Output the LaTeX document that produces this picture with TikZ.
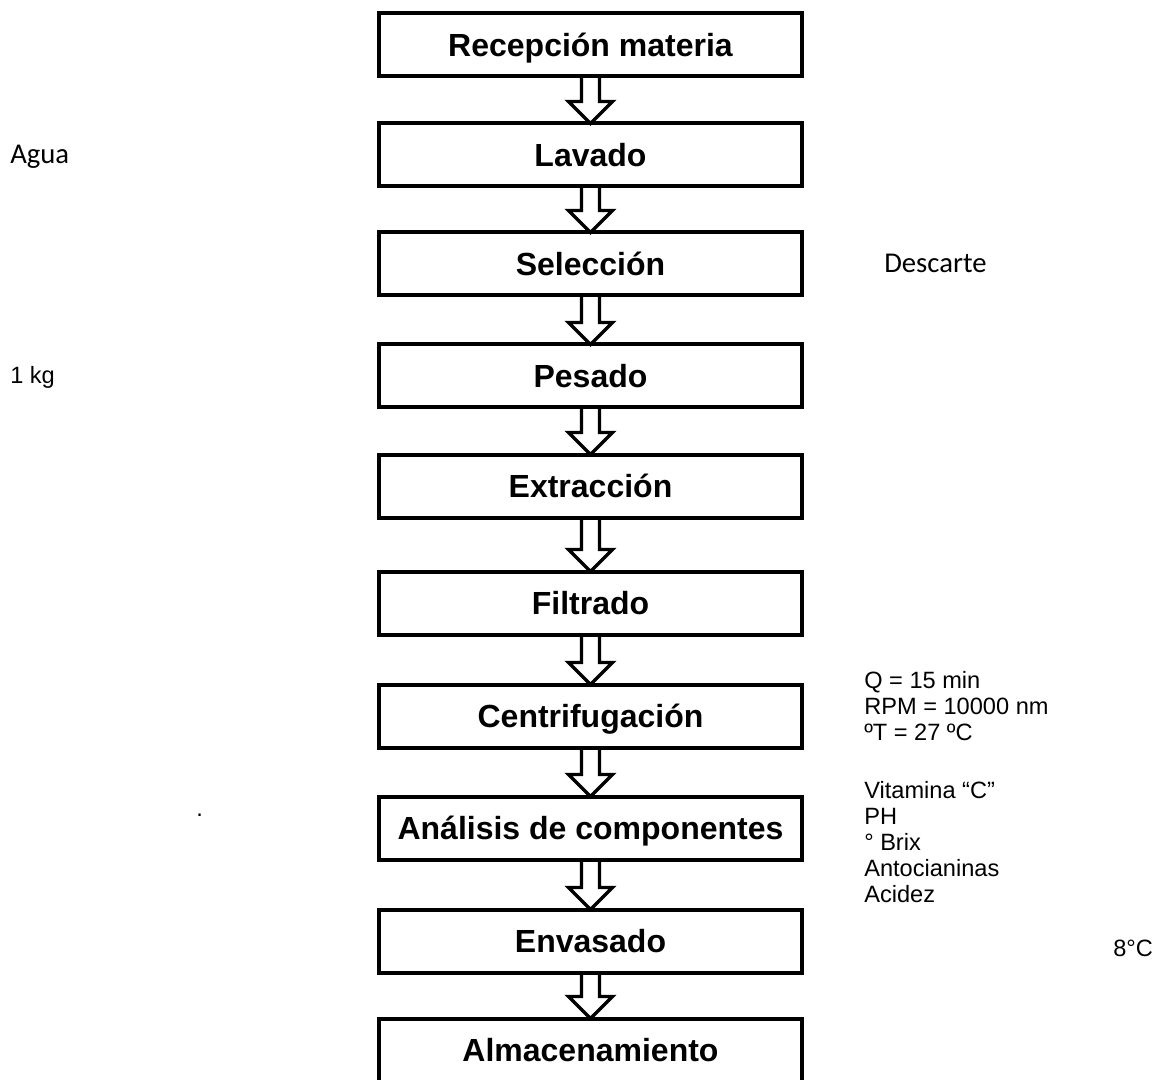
\documentclass[tikz,border=0pt]{standalone}
\usepackage{fontspec}
\setmainfont{Liberation Sans}
\newfontfamily\sidefont{Carlito}
\usetikzlibrary{calc}

\tikzset{
  stepbox/.style={draw, line width=3pt, minimum width=317.25pt, minimum height=47.25pt,
    inner sep=0pt, outer sep=0pt, text height=17.2pt, text depth=0pt,
    font=\fontsize{24}{28}\selectfont\bfseries},
  flowarrow/.style={draw, line width=2.6pt, line join=miter},
  note/.style={anchor=west, inner sep=0pt, align=left, font=\fontsize{17.7}{19.5}\selectfont},
  sidenote/.style={anchor=west, inner sep=0pt, font=\sidefont\fontsize{21.5}{24}\selectfont},
}

% hollow block arrow from the bottom of one step to the top of the next
\newcommand\hollowarrow[2]{%
  \draw[flowarrow] ($(#1.south)+(-9,0)$) -- ($(#2.north)+(-9,-22)$)
    -- ($(#2.north)+(-22,-22)$) -- (#2.north) -- ($(#2.north)+(22,-22)$)
    -- ($(#2.north)+(9,-22)$) -- ($(#1.south)+(9,0)$);}

\begin{document}
\begin{tikzpicture}[x=0.75pt, y=-0.75pt]
  \useasboundingbox (0,0) rectangle (1153,1080);

  % process steps
  \node[stepbox] (s1)  at (590.5,45)   {Recepción materia};
  \node[stepbox] (s2)  at (590.5,155)  {Lavado};
  \node[stepbox] (s3)  at (590.5,264)  {Selección};
  \node[stepbox] (s4)  at (590.5,376)  {Pesado};
  \node[stepbox] (s5)  at (590.5,486)  {Extracción};
  \node[stepbox] (s6)  at (590.5,603)  {Filtrado};
  \node[stepbox] (s7)  at (590.5,716)  {Centrifugación};
  \node[stepbox] (s8)  at (590.5,828)  {Análisis de componentes};
  \node[stepbox] (s9)  at (590.5,941)  {Envasado};
  \node[stepbox] (s10) at (590.5,1050) {Almacenamiento};

  % flow between steps
  \hollowarrow{s1}{s2}
  \hollowarrow{s2}{s3}
  \hollowarrow{s3}{s4}
  \hollowarrow{s4}{s5}
  \hollowarrow{s5}{s6}
  \hollowarrow{s6}{s7}
  \hollowarrow{s7}{s8}
  \hollowarrow{s8}{s9}
  \hollowarrow{s9}{s10}

  % side annotations
  \node[sidenote] (agua) at (10,157) {Agua};
  \node[sidenote] (descarte) at (884,263) {Descarte};
  \node[note] (peso) at (10,377) {1 kg};
  \node[note] (centr) at (864,706) {Q = 15 min\\RPM = 10000 nm\\ºT = 27 ºC};
  \node[note] (anal) at (864,842) {Vitamina “C”\\PH\\° Brix\\Antocianinas\\Acidez};
  \node[note] (temp) at (1113,948) {8°C};
  \node[note] (dot) at (196,815) {.};
\end{tikzpicture}
\end{document}
